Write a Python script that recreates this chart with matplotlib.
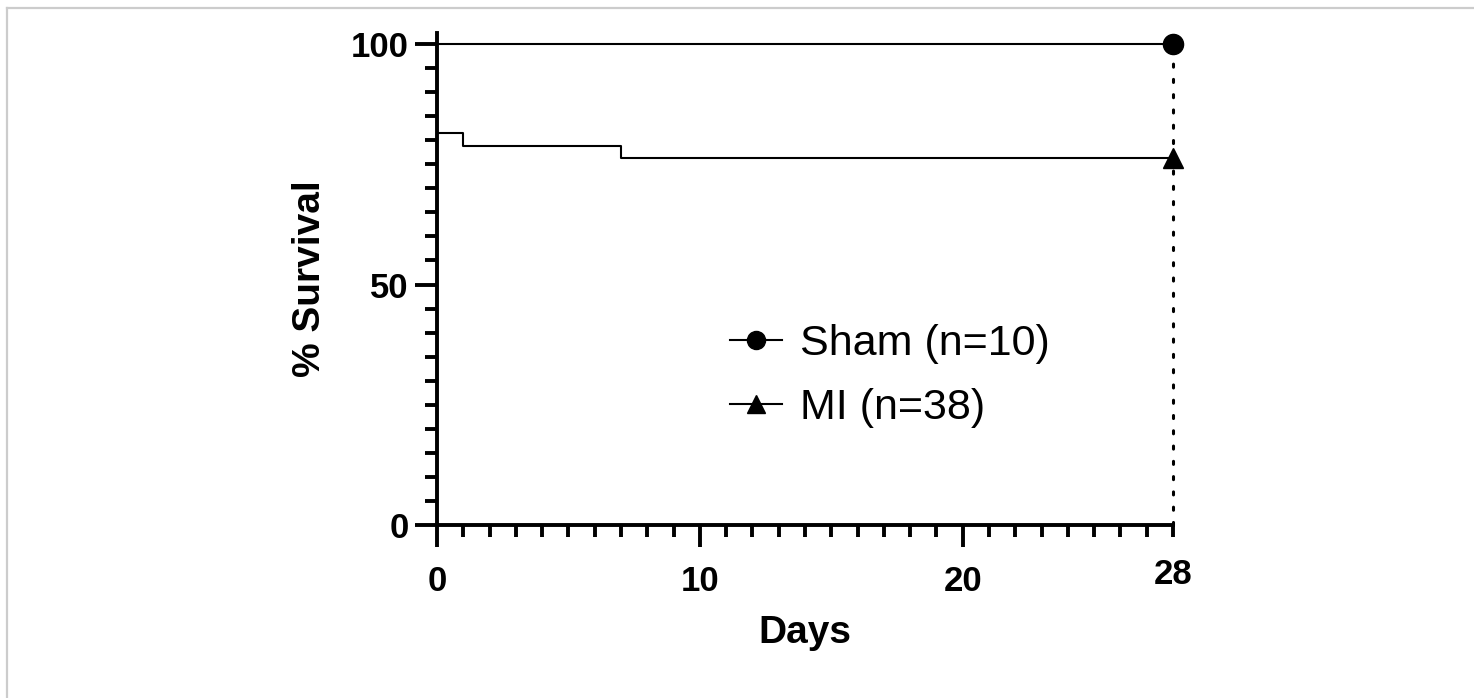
import matplotlib.pyplot as plt
from matplotlib.lines import Line2D

plt.rcParams['font.family'] = ['Liberation Sans', 'DejaVu Sans']

# data
sham_days = [0, 28]
sham_surv = [100, 100]
mi_days = [0, 0, 1, 7, 28]
mi_surv = [100, 81.6, 78.9, 76.3, 76.3]
major_x = [0, 10, 20]
major_x_labels = ['0', '10', '20']
minor_x = [d for d in range(1, 29) if d not in (10, 20)]
y_ticks = [0, 50, 100]
y_minor = [v for v in range(5, 100, 5) if v != 50]

W, H = 1474, 698
fig = plt.figure(figsize=(W / 100, H / 100), dpi=100)
ax = fig.add_axes([437 / W, 1 - 525 / H, 736 / W, (525 - 33) / H])

ax.plot(sham_days, sham_surv, color='black', lw=1.5, clip_on=False)
ax.step(mi_days, mi_surv, where='post', color='black', lw=1.5, clip_on=False)
ax.plot([28, 28], [0, 100], color='black', lw=2.2, linestyle=(0, (1, 4)),
        dash_capstyle='round', clip_on=False)
ax.plot([28], [sham_surv[-1]], 'o', color='black', ms=14.5, clip_on=False, zorder=5)
ax.plot([28], [mi_surv[-1]], '^', color='black', ms=15, clip_on=False, zorder=5)

ax.set_xlim(0, 28)
ax.set_ylim(0, 102.3)
for s in ['top', 'right']:
    ax.spines[s].set_visible(False)
for s in ['left', 'bottom']:
    ax.spines[s].set_linewidth(2.8)

ax.set_xticks(major_x, major_x_labels)
ax.set_xticks(minor_x, [''] * (len(minor_x) - 1) + ['28'], minor=True)
ax.set_yticks(y_ticks, [str(v) for v in y_ticks])
ax.set_yticks(y_minor, minor=True)
ax.tick_params(axis='both', which='major', length=15.5, width=2.8, labelsize=25)
ax.tick_params(axis='both', which='minor', length=8.5, width=2.8, labelsize=25)
ax.tick_params(axis='x', which='major', pad=13)
ax.tick_params(axis='x', which='minor', pad=15)
ax.tick_params(axis='y', which='major', pad=5)
for lab in ax.get_xticklabels() + ax.get_yticklabels() + ax.get_xticklabels(minor=True):
    lab.set_fontweight('bold')

ax.set_xlabel('Days', fontsize=28, fontweight='bold', va='center')
ax.set_ylabel('% Survival', fontsize=28, fontweight='bold', va='center')
ax.xaxis.set_label_coords(0.5, (525 - 633) / 492)
ax.yaxis.set_label_coords((310 - 437) / 736, 0.5)

handles = [Line2D([], [], color='black', lw=1.5, marker='o', ms=13),
           Line2D([], [], color='black', lw=1.5, marker='^', ms=13)]
ax.legend(handles, ['Sham (n=10)', 'MI (n=38)'], frameon=False, fontsize=31,
          handlelength=1.2, handletextpad=0.42, labelspacing=0.56,
          loc='center left', bbox_to_anchor=(730 / W, 1 - 376 / H),
          bbox_transform=fig.transFigure, borderaxespad=0, borderpad=0)

# light frame around the figure
fig.add_artist(Line2D([7 / W, 7 / W], [0, 1 - 8 / H], color='#cccccc', lw=1.6,
                      transform=fig.transFigure))
fig.add_artist(Line2D([7 / W, 1], [1 - 8 / H, 1 - 8 / H], color='#cccccc', lw=1.6,
                      transform=fig.transFigure))

fig.savefig('out.png', dpi=100)
